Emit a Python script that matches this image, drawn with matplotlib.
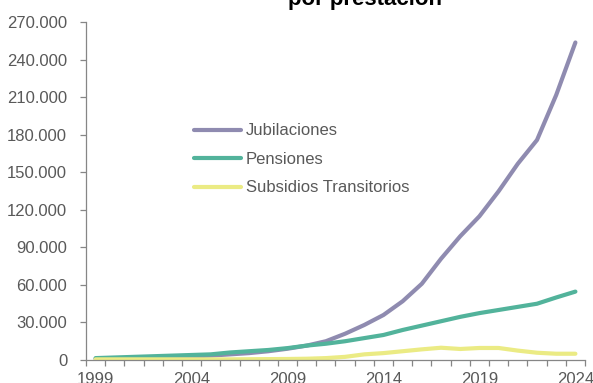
import matplotlib
matplotlib.use("Agg")
import matplotlib.pyplot as plt
from matplotlib.ticker import FuncFormatter, FixedLocator

plt.rcParams["font.family"] = ["Liberation Sans", "DejaVu Sans"]

years = list(range(1999, 2025))
jubilaciones = [1000, 1200, 1500, 1800, 2200, 2800, 3500, 4500, 5500, 7000,
                9000, 11500, 15000, 21000, 28000, 36000, 47000, 61000, 81000, 99000,
                115000, 135000, 157000, 176000, 212000, 254000]
pensiones = [1500, 2000, 2500, 3000, 3500, 4000, 4500, 6000, 7000, 8000,
             9500, 11500, 13000, 15000, 17500, 20000, 24000, 27500, 31000, 34500,
             37500, 40000, 42500, 45000, 50000, 54700]
subsidios = [500, 500, 500, 500, 500, 500, 500, 500, 600, 700,
             800, 1000, 1500, 2500, 4500, 5500, 7000, 8500, 9800, 8800,
             9600, 9600, 7500, 5800, 5000, 5000]
series_names = ["Jubilaciones", "Pensiones", "Subsidios Transitorios"]
series_colors = ["#8f8bb0", "#52b39b", "#ebeb84"]
label_years = [1999, 2004, 2009, 2014, 2019, 2024]

TEXT = "#595959"
AXIS = "#868686"

fig = plt.figure(figsize=(5.93, 3.83), dpi=100)
ax = fig.add_axes([0.145, 0.0601, 0.8415, 0.8812])

idx = list(range(len(years)))
for vals, name, col in zip([jubilaciones, pensiones, subsidios], series_names, series_colors):
    ax.plot(idx, vals, color=col, lw=3.0, label=name, solid_capstyle="round")

ax.set_xlim(-0.5, len(years) - 0.5)
ax.set_ylim(0, 270000)
ax.set_yticks(range(0, 270001, 30000))
ax.yaxis.set_major_formatter(FuncFormatter(lambda v, p: f"{int(v):,}".replace(",", ".")))

# category axis: ticks between categories, labels every 5 years
ax.xaxis.set_minor_locator(FixedLocator([i - 0.5 for i in range(len(years) + 1)]))
ax.set_xticks([years.index(y) for y in label_years])
ax.set_xticklabels([str(y) for y in label_years])
ax.tick_params(axis="x", which="major", length=0, pad=9, labelsize=12, labelcolor=TEXT)
ax.tick_params(axis="x", which="minor", length=4.5, width=0.9, color=AXIS, direction="out")
ax.tick_params(axis="y", length=4.5, width=0.9, color=AXIS, pad=9, labelsize=12, labelcolor=TEXT)

for s in ["top", "right"]:
    ax.spines[s].set_visible(False)
for s in ["left", "bottom"]:
    ax.spines[s].set_color(AXIS)
    ax.spines[s].set_linewidth(0.9)

leg = ax.legend(loc="upper left", bbox_to_anchor=(0.217, 0.701), frameon=False,
                fontsize=12, handlelength=2.8, handletextpad=0.3, labelspacing=0.81,
                borderpad=0, borderaxespad=0)
for t in leg.get_texts():
    t.set_color(TEXT)

fig.text(0.615, 0.987, "por prestación", ha="center", va="baseline",
         fontsize=16, fontweight="bold", color="#000000")

fig.savefig("out.png", dpi=100)
